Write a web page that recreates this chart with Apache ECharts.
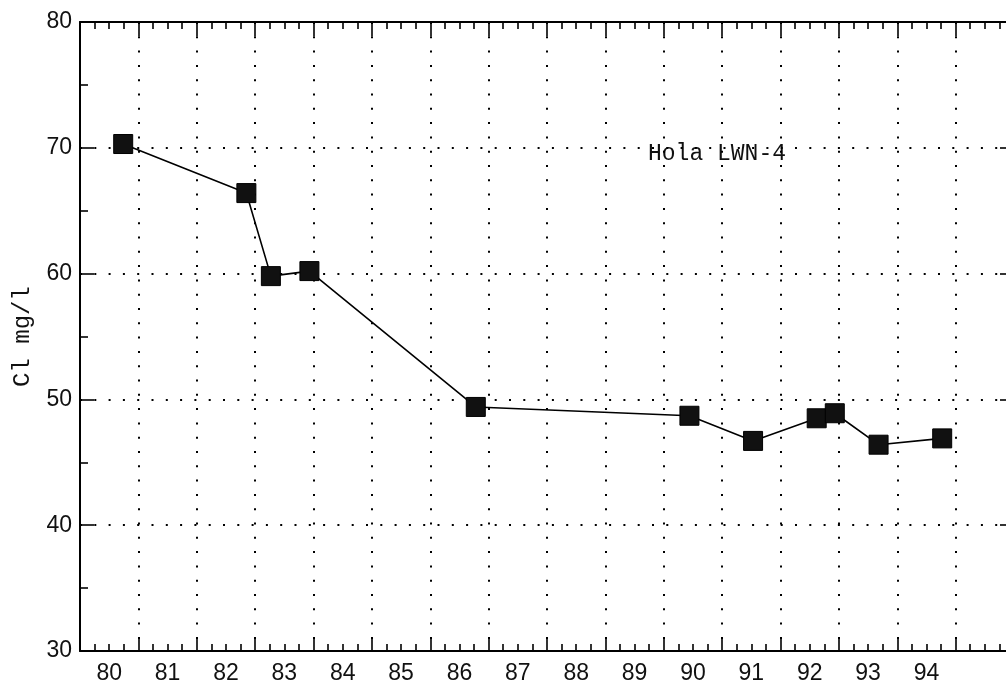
<!DOCTYPE html>
<html>
<head>
<meta charset="utf-8">
<script src="https://cdn.jsdelivr.net/npm/echarts@6/dist/echarts.min.js"></script>
<style>
html,body{margin:0;padding:0;background:#fff;}
#c{width:1006px;height:686px;}
</style>
</head>
<body>
<div id="c"></div>
<script>
// Sampling dates (decimal year, 19xx) and chloride concentrations
const years = [80.74, 82.85, 83.27, 83.93, 86.78, 90.44, 91.53, 92.62, 92.93, 93.68, 94.77];
const chloride = [70.3, 66.4, 59.8, 60.2, 49.4, 48.7, 46.7, 48.5, 48.9, 46.4, 46.9];
// Year labels centred in each year band
const xTickLabels = ['80','81','82','83','84','85','86','87','88','89','90','91','92','93','94',''];
const yAxisName = 'Cl mg/l';
const annotation = 'Hola LWN-4';

const points = years.map((y, i) => [y, chloride[i]]);

const dotted = { color: '#000', width: 2, type: [2, 12.3] };
const axisLine = { show: true, lineStyle: { color: '#000', width: 2 } };
const tickStyle = { color: '#000', width: 1.6 };
const typeFont = '"Liberation Mono"';

const chart = echarts.init(document.getElementById('c'), null, { renderer: 'canvas' });
chart.setOption({
  animation: false,
  backgroundColor: '#fff',
  grid: { left: 80, top: 22, width: 934, height: 629, containLabel: false, outerBoundsMode: 'none' },
  xAxis: [
    {
      type: 'value', position: 'bottom', min: 80, max: 96, interval: 1,
      axisLine: axisLine,
      axisTick: { show: true, inside: true, length: 14, lineStyle: tickStyle },
      minorTick: { show: true, splitNumber: 4, length: 7, lineStyle: tickStyle },
      axisLabel: { show: false },
      splitLine: { show: true, lineStyle: dotted }
    },
    {
      type: 'category', position: 'bottom', data: xTickLabels, boundaryGap: true,
      axisLine: { show: false }, axisTick: { show: false },
      axisLabel: { show: true, interval: 0, margin: 11, fontFamily: 'Liberation Sans', fontSize: 23, color: '#111' },
      splitLine: { show: false }
    },
    {
      type: 'value', position: 'top', min: 80, max: 96, interval: 1,
      axisLine: axisLine,
      axisTick: { show: true, inside: true, length: 14, lineStyle: tickStyle },
      minorTick: { show: true, splitNumber: 4, length: 7, lineStyle: tickStyle },
      axisLabel: { show: false },
      splitLine: { show: false }
    }
  ],
  yAxis: [
    {
      type: 'value', position: 'left', min: 30, max: 80, interval: 10,
      name: yAxisName, nameLocation: 'middle', nameGap: 45, nameRotate: 90,
      nameTextStyle: { fontFamily: 'Liberation Mono', fontSize: 24, color: '#111' },
      axisLine: axisLine,
      axisTick: { show: true, inside: true, length: 14, lineStyle: tickStyle },
      minorTick: { show: true, splitNumber: 2, length: 8, lineStyle: tickStyle },
      axisLabel: { show: true, margin: 8, fontFamily: 'Liberation Sans', fontSize: 23, color: '#111' },
      splitLine: { show: true, lineStyle: dotted }
    },
    {
      type: 'value', position: 'right', min: 30, max: 80, interval: 10,
      axisLine: axisLine,
      axisTick: { show: true, inside: true, length: 14, lineStyle: tickStyle },
      minorTick: { show: true, splitNumber: 2, length: 8, lineStyle: tickStyle },
      axisLabel: { show: false },
      splitLine: { show: false }
    }
  ],
  series: [{
    type: 'line',
    xAxisIndex: 0, yAxisIndex: 0,
    data: points,
    symbol: 'rect', symbolSize: 19,
    itemStyle: { color: '#111', borderColor: '#000', borderWidth: 1 },
    lineStyle: { color: '#000', width: 1.6 },
    z: 5
  }],
  graphic: [{
    type: 'text', left: 648, top: 142,
    style: { text: annotation, font: '23px ' + typeFont, fill: '#111' }
  }]
});
</script>
</body>
</html>
